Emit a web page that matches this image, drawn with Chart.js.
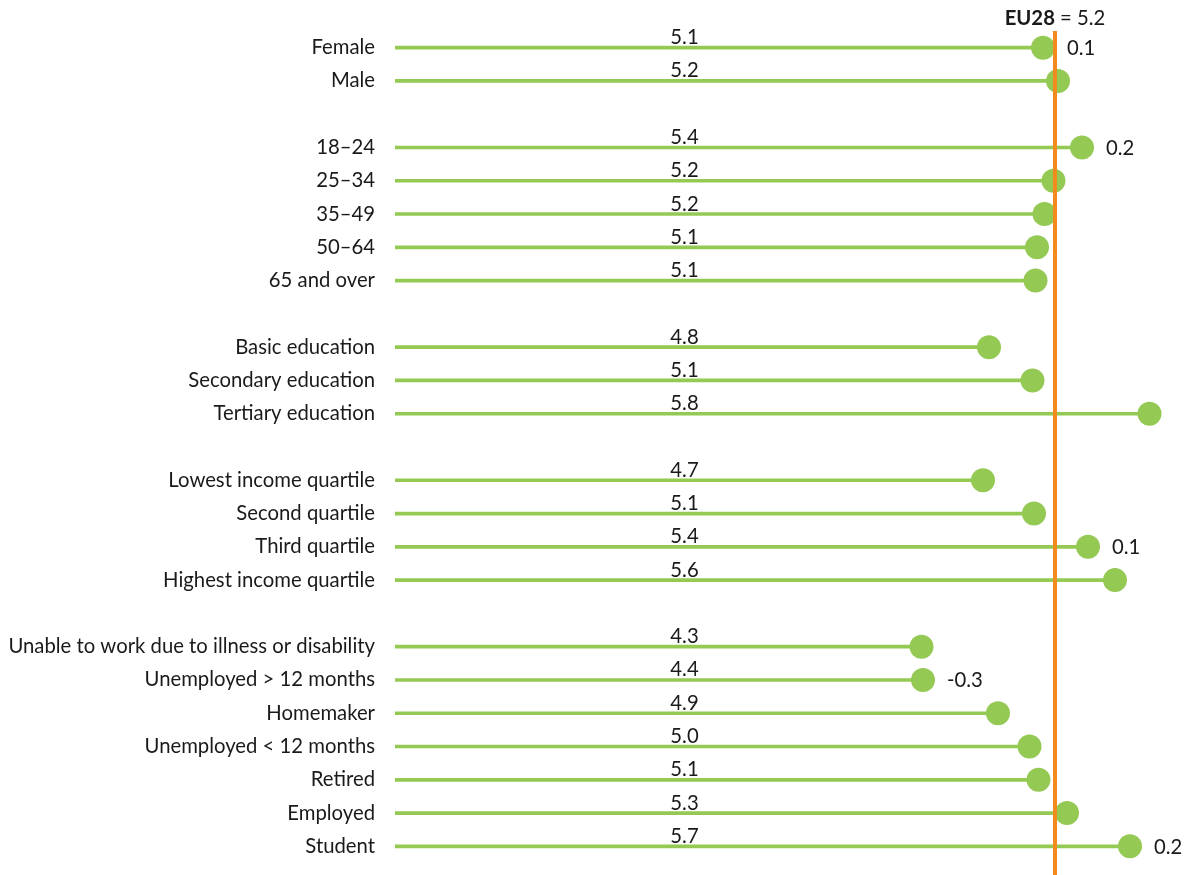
<!DOCTYPE html>
<html>
<head>
<meta charset="utf-8">
<script src="https://cdn.jsdelivr.net/npm/chart.js@4.4.1/dist/chart.umd.min.js"></script>
<style>
  html, body { margin: 0; padding: 0; background: #ffffff; }
  #wrap { width: 1188px; height: 875px; position: relative; }
</style>
</head>
<body>
<div id="wrap"><canvas id="c" width="1188" height="875"></canvas></div>
<script>
// ---- Data (empty strings / nulls are spacer rows between groups) ----
const categories = [
  'Female', 'Male', '',
  '18\u201324', '25\u201334', '35\u201349', '50\u201364', '65 and over', '',
  'Basic education', 'Secondary education', 'Tertiary education', '',
  'Lowest income quartile', 'Second quartile', 'Third quartile', 'Highest income quartile', '',
  'Unable to work due to illness or disability', 'Unemployed > 12 months', 'Homemaker',
  'Unemployed < 12 months', 'Retired', 'Employed', 'Student'
];
// positions of the dots
const values = [
  5.12, 5.22, null,
  5.38, 5.19, 5.13, 5.08, 5.07, null,
  4.76, 5.05, 5.83, null,
  4.72, 5.06, 5.42, 5.60, null,
  4.31, 4.32, 4.82, 5.03, 5.09, 5.28, 5.70
];
// printed value labels
const valueLabels = [
  '5.1', '5.2', null,
  '5.4', '5.2', '5.2', '5.1', '5.1', null,
  '4.8', '5.1', '5.8', null,
  '4.7', '5.1', '5.4', '5.6', null,
  '4.3', '4.4', '4.9', '5.0', '5.1', '5.3', '5.7'
];
// change labels shown to the right of some dots
const changeLabels = [
  '0.1', null, null,
  '0.2', null, null, null, null, null,
  null, null, null, null,
  null, null, '0.1', null, null,
  null, '-0.3', null, null, null, null, '0.2'
];
const EU28 = 5.2;
const EU28_LABEL = 'EU28';
const X_MIN = 0.8, X_MAX = 6.0;
const VALUE_LABEL_POS = 2.73;

const GREEN = '#94c954';
const ORANGE = '#f28a1e';
const FONT = 'Lato, "Noto Sans", sans-serif';
const FSIZE = 20.3;
const TEXT = '#1a1a1a';

const overlay = {
  id: 'overlay',
  afterDatasetsDraw(chart) {
    const ctx = chart.ctx;
    const xs = chart.scales.x, ys = chart.scales.y;
    ctx.save();
    // value labels above lines
    ctx.font = FSIZE + 'px ' + FONT;
    ctx.fillStyle = TEXT;
    ctx.textAlign = 'center';
    ctx.textBaseline = 'alphabetic';
    const lx = xs.getPixelForValue(VALUE_LABEL_POS);
    valueLabels.forEach((t, i) => {
      if (!t) return;
      const y = ys.getPixelForValue(i);
      ctx.fillText(t, lx, y - 3.5);
    });
    // change labels
    ctx.textAlign = 'left';
    ctx.textBaseline = 'middle';
    changeLabels.forEach((t, i) => {
      if (!t) return;
      const y = ys.getPixelForValue(i);
      const x = xs.getPixelForValue(values[i]);
      ctx.fillText(t, x + 24, y + 1);
    });
    // EU28 reference line
    const ex = xs.getPixelForValue(EU28);
    ctx.strokeStyle = ORANGE;
    ctx.lineWidth = 4;
    ctx.beginPath();
    ctx.moveTo(ex, 31);
    ctx.lineTo(ex, chart.height);
    ctx.stroke();
    // EU28 label
    ctx.textBaseline = 'alphabetic';
    ctx.font = 'bold ' + FSIZE + 'px ' + FONT;
    const bw = ctx.measureText(EU28_LABEL).width;
    ctx.font = FSIZE + 'px ' + FONT;
    const rest = ' = ' + EU28.toFixed(1);
    const rw = ctx.measureText(rest).width;
    const start = ex - (bw + rw) / 2;
    ctx.font = 'bold ' + FSIZE + 'px ' + FONT;
    ctx.fillText(EU28_LABEL, start, 25);
    ctx.font = FSIZE + 'px ' + FONT;
    ctx.fillText(rest, start + bw, 25);
    ctx.restore();
  }
};

new Chart(document.getElementById('c'), {
  type: 'bar',
  data: {
    labels: categories,
    datasets: [
      {
        type: 'line',
        indexAxis: 'y',
        data: values,
        showLine: false,
        pointRadius: 12,
        pointHoverRadius: 12,
        pointBackgroundColor: GREEN,
        pointBorderWidth: 0,
        borderColor: GREEN,
        order: 0
      },
      {
        type: 'bar',
        data: values,
        backgroundColor: GREEN,
        barThickness: 3,
        borderWidth: 0,
        order: 1
      }
    ]
  },
  options: {
    indexAxis: 'y',
    responsive: false,
    animation: false,
    devicePixelRatio: 1,
    layout: { padding: { top: 31, bottom: 8.5, left: 0, right: 13 } },
    plugins: { legend: { display: false }, tooltip: { enabled: false } },
    scales: {
      x: { display: false, min: X_MIN, max: X_MAX },
      y: {
        grid: { display: false, drawTicks: false },
        border: { display: false },
        ticks: { color: TEXT, font: { family: FONT, size: FSIZE }, padding: 20, autoSkip: false },
        afterFit(scale) { scale.width = 395; scale.paddingTop = 0; scale.paddingBottom = 0; }
      }
    }
  },
  plugins: [overlay]
});
</script>
</body>
</html>
